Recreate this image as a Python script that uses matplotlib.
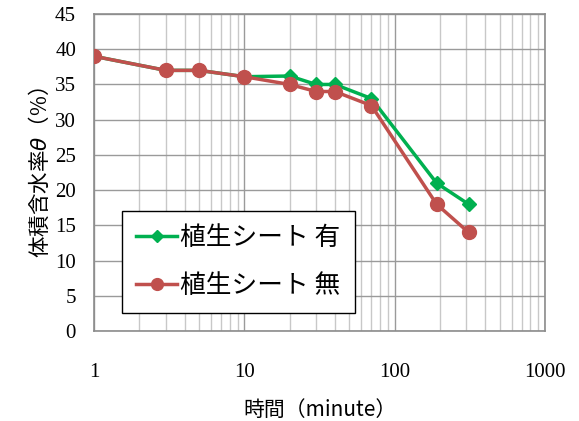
import matplotlib
matplotlib.use("Agg")
import matplotlib.pyplot as plt
from matplotlib.ticker import FixedLocator, LogLocator, NullFormatter

# Elapsed time (minutes) and volumetric water content (%)
time_min = [1, 3, 5, 10, 20, 30, 40, 70, 190, 310]
with_sheet = [39, 37, 37, 36.1, 36.2, 35, 35, 33, 21, 18]
without_sheet = [39, 37, 37, 36.1, 35, 34, 34, 32, 18, 14]
labels = ["植生シート 有", "植生シート 無"]
x_ticks = [1, 10, 100, 1000]
x_tick_labels = ["1", "10", "100", "1000"]
y_ticks = list(range(0, 50, 5))

jp = ["Noto Sans CJK JP", "DejaVu Sans"]
plt.rcParams["font.family"] = ["Liberation Serif", "DejaVu Serif"]

fig = plt.figure(figsize=(5.79, 4.21), dpi=100)
ax = fig.add_axes([0.1625, 0.2138, 0.7788, 0.7529])

ax.set_xscale("log")
ax.set_xlim(1, 1000)
ax.set_ylim(0, 45)

ax.xaxis.set_major_locator(FixedLocator(x_ticks))
ax.xaxis.set_minor_locator(LogLocator(base=10, subs=range(2, 10)))
ax.xaxis.set_minor_formatter(NullFormatter())
ax.set_xticks(x_ticks)
ax.set_xticklabels(x_tick_labels)
ax.set_yticks(y_ticks)

ax.grid(which="major", axis="both", color="#9a9a9a", linewidth=1.0)
ax.grid(which="minor", axis="x", color="#c8c8c8", linewidth=1.0)
ax.set_axisbelow(True)

for s in ax.spines.values():
    s.set_color("#8c8c8c")
    s.set_linewidth(1.2)

ax.tick_params(which="both", length=0, labelsize=15)
ax.tick_params(axis="x", pad=23)
ax.tick_params(axis="y", pad=13)

ax.plot(time_min, with_sheet, color="#00b050", linewidth=2.5,
        marker="D", markersize=7.5, label=labels[0], zorder=3)
ax.plot(time_min, without_sheet, color="#c0504d", linewidth=2.5,
        marker="o", markersize=10, label=labels[1], zorder=4)

ax.set_xlabel("時間（minute）", fontsize=15, labelpad=12, family=jp)
ax.set_ylabel("体積含水率$\\theta$（%）", fontsize=15.5, labelpad=2,
              family=jp)

leg = ax.legend(loc="lower left", bbox_to_anchor=(0.062, 0.057),
                borderaxespad=0.0,
                prop={"family": jp, "size": 18.5}, frameon=True,
                fancybox=False, edgecolor="black", framealpha=1.0,
                handlelength=1.6, handletextpad=0.12, labelspacing=0.85,
                borderpad=0.55, markerscale=0.85)
leg.get_frame().set_linewidth(1.0)

fig.savefig("out.png", dpi=100)
